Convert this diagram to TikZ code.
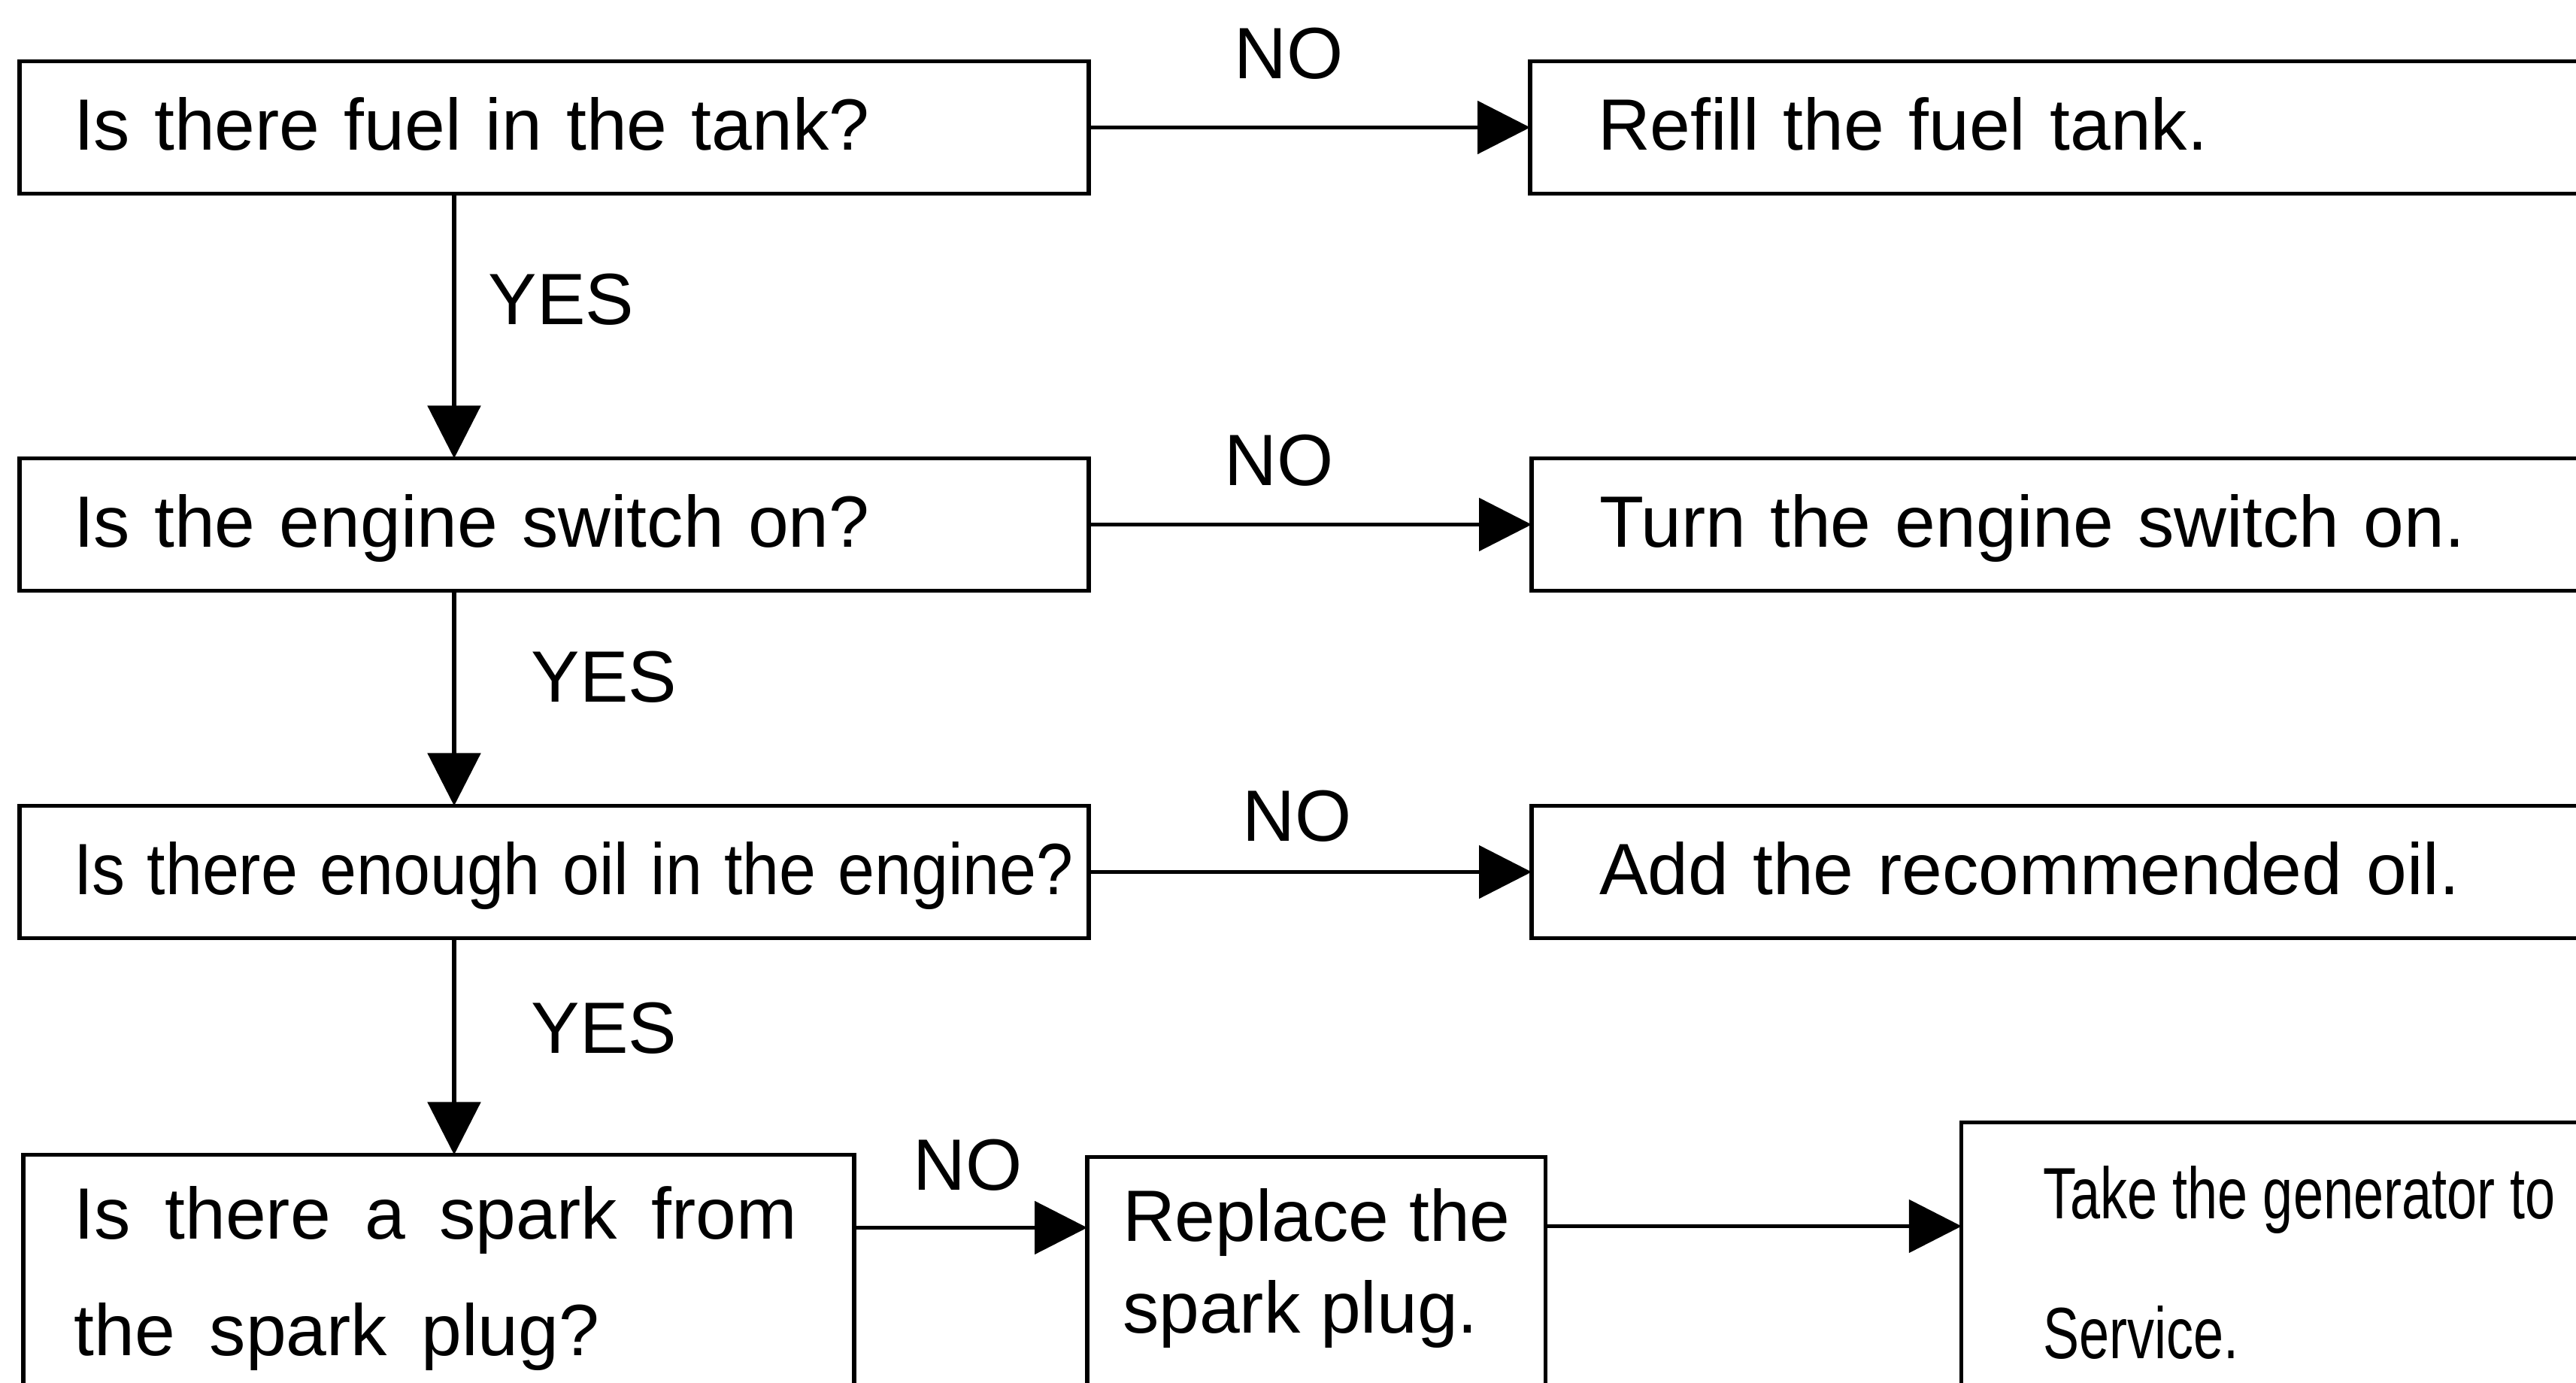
\documentclass[tikz,border=0pt]{standalone}
\usepackage{fontspec}
\setmainfont{Liberation Sans}
\newfontfamily\narrowfont[FakeStretch=0.745]{Liberation Sans}
\newcommand\lowstrut{\rule[-1.6cm]{0pt}{1.6cm}}
\usetikzlibrary{arrows.meta,positioning}

\begin{document}
\begin{tikzpicture}[node distance=3cm and 5.87cm,
  every node/.style={font=\fontsize{27.5}{33}\selectfont},
  box/.style={draw,line width=1.5pt,align=left,outer sep=0pt},
  qbox/.style={box,text width=12.78cm,inner xsep=0.72cm,inner ysep=0pt,
    minimum height=1.76cm,text height=0.7cm,text depth=0.1cm},
  fixbox/.style={box,text width=13.2cm,inner xsep=0.9cm,inner ysep=0pt,
    minimum height=1.76cm,text height=0.7cm,text depth=0.1cm},
  lbl/.style={inner sep=0pt},
  arr/.style={-{Triangle[length=7mm,width=7mm]},line width=1.5pt}]
\useasboundingbox (0,0) rectangle (34.26,18.39);
\node[qbox] (q1) at (7.37,16.695) {Is there fuel in the tank?};
\node[fixbox,right=5.87cm of q1] (r1) {Refill the fuel tank.};
\node[qbox,below=3.52cm of q1] (q2) {Is the engine switch on?};
\node[fixbox,right=5.89cm of q2] (r2) {Turn the engine switch on.};
\node[qbox,below=2.86cm of q2] (q3) {\scalebox{0.91}[1]{Is there enough oil in the engine?}};
\node[fixbox,right=5.89cm of q3] (r3) {Add the recommended oil.};
\node[box,below=2.88cm of q3.south west,anchor=north west,xshift=0.05cm,
  text width=9.69cm,inner xsep=0.68cm,inner ysep=0.42cm,
  font=\fontsize{27.5}{44}\selectfont] (q4)
  {\spaceskip=0.47em\relax Is there a spark from\\the spark plug?\lowstrut};
\node[box,right=3.1cm of q4.north east,anchor=north west,yshift=-0.03cm,
  minimum width=6.09cm,inner xsep=0.47cm,inner ysep=0.42cm,
  font=\fontsize{27.5}{34.7}\selectfont] (rep) {Replace the\\spark plug.\lowstrut};
\node[box,right=5.53cm of rep.north east,anchor=north west,yshift=0.46cm,
  text width=8cm,inner xsep=1.09cm,inner ysep=0.58cm,
  font=\narrowfont\fontsize{27.5}{52.9}\selectfont] (take)
  {\spaceskip=0.2cm\relax Take the generator to\\Service.\lowstrut};
% yes branches down the left column
\coordinate (col) at (6.04,0);
\draw[arr] (q1.south -| col) -- node[lbl,right=0.43cm,pos=0.4]{YES} (q2.north -| col);
\draw[arr] (q2.south -| col) -- node[lbl,right=1cm,pos=0.4]{YES} (q3.north -| col);
\draw[arr] (q3.south -| col) -- node[lbl,right=1cm,pos=0.415]{YES} (q4.north -| col);
% no branches to the right
\draw[arr] (q1) -- node[lbl,above=0.61cm,pos=0.453]{NO} (r1);
\draw[arr] (q2) -- node[lbl,above=0.48cm,pos=0.43]{NO} (r2);
\draw[arr] (q3) -- node[lbl,above=0.37cm,pos=0.47]{NO} (r3);
\draw[arr] ([yshift=-0.97cm]q4.north east) coordinate (s4)
  -- node[lbl,above=0.46cm,pos=0.487]{NO} (s4 -| rep.west);
\draw[arr] ([yshift=-0.92cm]rep.north east) coordinate (s5) -- (s5 -| take.west);
\end{tikzpicture}
\end{document}
